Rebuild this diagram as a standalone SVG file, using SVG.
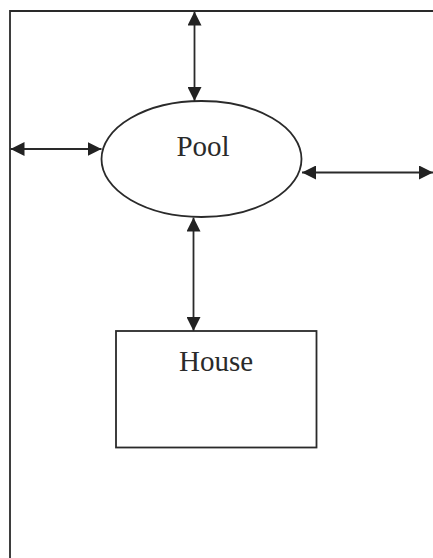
<svg xmlns="http://www.w3.org/2000/svg" width="433" height="558" viewBox="0 0 433 558">
<defs>
<marker id="ah" viewBox="0 0 14 14" refX="14" refY="7" markerWidth="14" markerHeight="14" markerUnits="userSpaceOnUse" orient="auto-start-reverse">
<path d="M0,0 L14,7 L0,14 Z" fill="#222"/>
</marker>
</defs>
<style>
.ln{stroke:#2a2a2a;stroke-width:1.8;fill:none}
.cn{stroke:#2a2a2a;stroke-width:1.8;fill:none;marker-start:url(#ah);marker-end:url(#ah)}
.lbl{font-family:"Liberation Serif","Times New Roman",serif;font-size:29px;fill:#2a2a2a;text-anchor:middle}
</style>
<rect width="433" height="558" fill="#fff"/>
<g id="border">
<path class="ln" d="M10,558 L10,11 L433,11"/>
</g>
<g id="pool">
<ellipse class="ln" cx="201.5" cy="159" rx="100" ry="58"/>
<text class="lbl" x="203" y="156">Pool</text>
</g>
<g id="house">
<rect class="ln" x="116" y="331" width="200.5" height="116.5"/>
<text class="lbl" x="216" y="371">House</text>
</g>
<g id="connectors">
<line class="cn" x1="194.5" y1="11.5" x2="194.5" y2="101"/>
<line class="cn" x1="10.5" y1="149" x2="101.5" y2="149"/>
<line class="cn" x1="302" y1="172.5" x2="433" y2="172.5"/>
<line class="cn" x1="193.5" y1="217.5" x2="193.5" y2="331"/>
</g>
</svg>
